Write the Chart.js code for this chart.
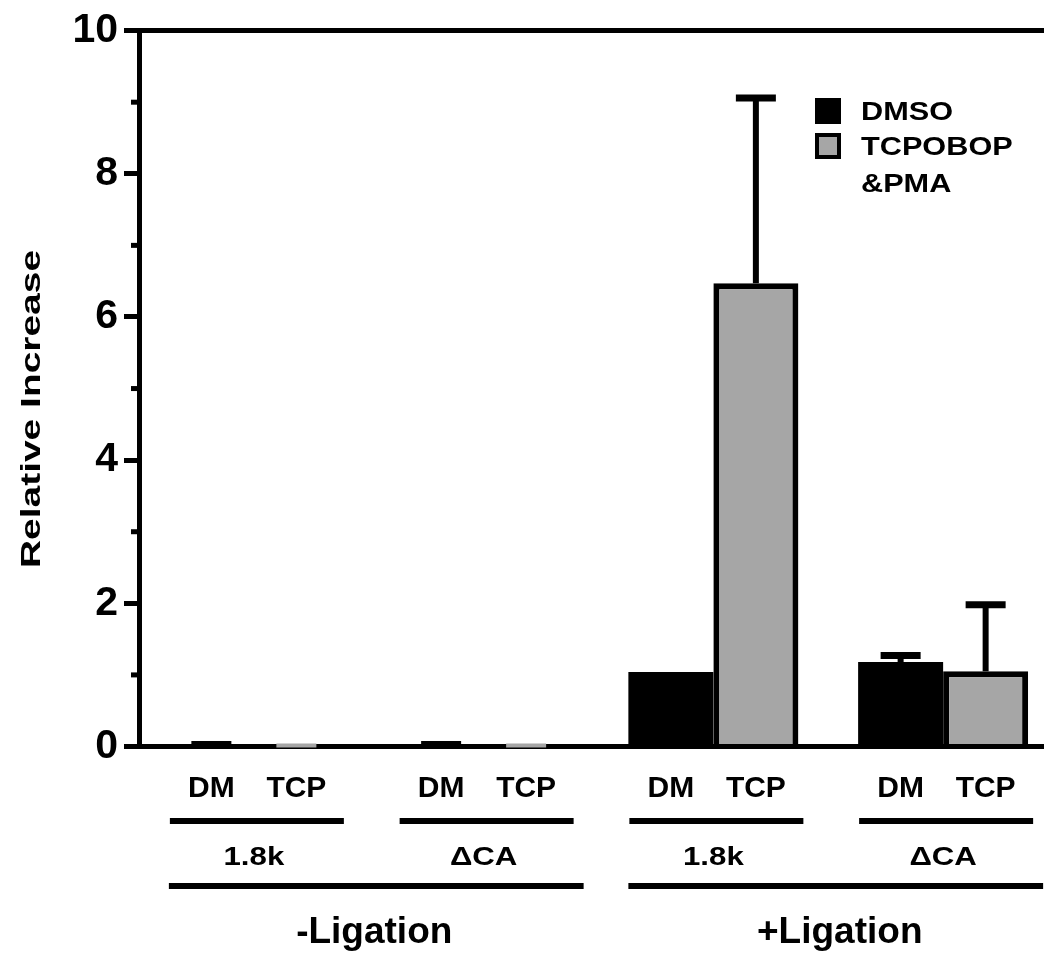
<!DOCTYPE html>
<html>
<head>
<meta charset="utf-8">
<title>Relative Increase</title>
<script src="https://cdn.jsdelivr.net/npm/chart.js@4.4.0/dist/chart.umd.min.js"></script>
<style>
html, body { margin: 0; padding: 0; overflow: hidden; background: #fff; }
#wrap { width: 1058px; height: 954px; }
</style>
</head>
<body>
<div id="wrap"><canvas id="bar-chart" width="1058" height="954"></canvas></div>
<script>
// data
var groupLabels = ['1.8k', '\u0394CA', '1.8k', '\u0394CA'];
var treatLabels = ['DM', 'TCP'];
var ligationLabels = ['-Ligation', '+Ligation'];
var seriesNames = ['DMSO', 'TCPOBOP &PMA'];
var dmsoValues = [0.01, 0.01, 1.04, 1.18];
var tcpValues = [0, 0, 6.47, 1.05];
var dmsoErrors = [0.025, 0.025, 0, 0.09];
var tcpErrors = [0.001, 0.001, 2.59, 0.93];
var yTicks = [0, 2, 4, 6, 8, 10];
var yMinorTicks = [1, 3, 5, 7, 9];
var yTitle = 'Relative Increase';

var FONT = '"Liberation Sans", Arial, sans-serif';

function putText(ctx, txt, x, y, size, sx, rot, align){
	ctx.save();
	ctx.translate(x, y);
	if (rot) ctx.rotate(rot);
	ctx.scale(sx, 1);
	ctx.font = 'bold ' + size + 'px ' + FONT;
	ctx.textAlign = align || 'center';
	ctx.textBaseline = 'middle';
	ctx.fillStyle = '#000';
	ctx.fillText(txt, 0, 0);
	ctx.restore();
}

function hline(ctx, x1, x2, y, w, col){
	ctx.save();
	ctx.strokeStyle = col || '#000';
	ctx.lineWidth = w;
	ctx.beginPath();
	ctx.moveTo(x1, y);
	ctx.lineTo(x2, y);
	ctx.stroke();
	ctx.restore();
}

var extras = {
	id: 'extras',
	afterDatasetsDraw: function(chart){
		var ctx = chart.ctx;
		var ys = chart.scales.y;
		var xs = chart.scales.x;
		var errs = [dmsoErrors, tcpErrors];

		// error bars (upper only); near-zero bars only show their cap, in the bar colour
		chart.data.datasets.forEach(function(ds, d){
			var meta = chart.getDatasetMeta(d);
			meta.data.forEach(function(bar, i){
				var e = errs[d][i];
				if (!e) return;
				var top = ys.getPixelForValue(ds.data[i] + e);
				var flat = ds.data[i] < 0.1;
				if (!flat){
					ctx.save();
					ctx.strokeStyle = '#000';
					ctx.lineWidth = 6;
					ctx.beginPath();
					ctx.moveTo(bar.x, bar.y);
					ctx.lineTo(bar.x, top);
					ctx.stroke();
					ctx.restore();
				}
				hline(ctx, bar.x - 20, bar.x + 20, flat ? top - 1 : top, flat ? 4 : 7, flat ? ds.backgroundColor : '#000');
			});
		});

		// minor ticks on y axis
		yMinorTicks.forEach(function(v){
			hline(ctx, chart.chartArea.left - 8, chart.chartArea.left, ys.getPixelForValue(v), 5);
		});

		// treatment labels under each bar
		for (var i = 0; i < groupLabels.length; i++){
			for (var d = 0; d < 2; d++){
				var b = chart.getDatasetMeta(d).data[i];
				putText(ctx, treatLabels[d], b.x, 789, 30, 1, 0);
			}
			var c = xs.getPixelForValue(i);
			hline(ctx, c - 84, c + 90, 821, 6);
			putText(ctx, groupLabels[i], c, 858, 26, 1.2, 0);
		}

		// ligation brackets
		for (var k = 0; k < ligationLabels.length; k++){
			var c1 = xs.getPixelForValue(k * 2);
			var c2 = xs.getPixelForValue(k * 2 + 1);
			hline(ctx, c1 - 85, c2 + 100, 886, 6);
			putText(ctx, ligationLabels[k], (c1 - 85 + c2 + 100) / 2 + (k ? 4 : -2), 933, 37, 1, 0);
		}

		// legend
		var ly = 98;
		chart.data.datasets.forEach(function(ds, d){
			ctx.save();
			ctx.fillStyle = '#000';
			ctx.fillRect(815, ly, 26, 26);
			if (d === 1){
				ctx.fillStyle = ds.backgroundColor;
				ctx.fillRect(819, ly + 4, 18, 18);
			}
			ctx.restore();
			var lines = d === 1 ? ds.label.split(' ') : [ds.label];
			lines.forEach(function(t, j){
				putText(ctx, t, 861, ly + 15 + j * 36.5, 26, 1.18, 0, 'left');
			});
			ly += 35;
		});

		// y axis title
		putText(ctx, yTitle, 32, 409, 28, 1.39, -Math.PI / 2);
	}
};

new Chart(document.getElementById('bar-chart'), {
	type: 'bar',
	data: {
		labels: groupLabels,
		datasets: [
			{
				label: seriesNames[0],
				data: dmsoValues,
				backgroundColor: '#000',
				borderColor: '#000',
				borderWidth: 0,
				categoryPercentage: 0.74,
				barPercentage: 1
			},
			{
				label: seriesNames[1],
				data: tcpValues,
				backgroundColor: '#a6a6a6',
				borderColor: '#000',
				borderWidth: function(c){ return c.raw > 0.1 ? 6 : 0; },
				categoryPercentage: 0.74,
				barPercentage: 1
			}
		]
	},
	options: {
		responsive: false,
		animation: false,
		layout: { padding: { top: 25, left: 0, right: 0, bottom: 0 } },
		plugins: {
			legend: { display: false },
			tooltip: { enabled: false }
		},
		scales: {
			x: {
				type: 'category',
				ticks: { display: false },
				grid: { display: false },
				border: { display: true, color: '#000', width: 5 },
				afterFit: function(s){ s.height = 207.5; }
			},
			y: {
				min: 0,
				max: 10,
				afterBuildTicks: function(s){
					s.ticks = yTicks.map(function(v){ return { value: v }; });
				},
				ticks: {
					color: '#000',
					padding: 6,
					font: { family: FONT, size: 41, weight: 'bold' }
				},
				grid: {
					color: function(c){ return c.tick && c.tick.value === 10 ? '#000' : 'rgba(0,0,0,0)'; },
					tickColor: '#000',
					lineWidth: 5,
					tickLength: 15
				},
				border: { display: true, color: '#000', width: 5 },
				afterFit: function(s){ s.width = 139; }
			}
		}
	},
	plugins: [extras]
});
</script>
</body>
</html>
